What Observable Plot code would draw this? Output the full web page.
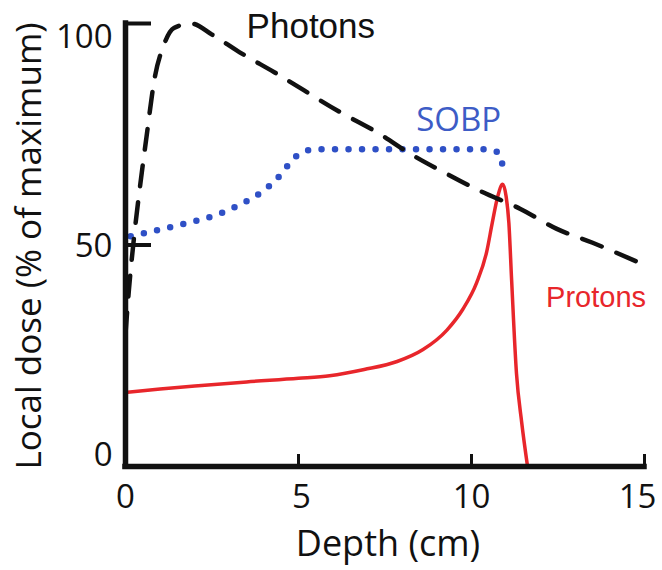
<!DOCTYPE html>
<html>
<head>
<meta charset="utf-8">
<script src="https://cdn.jsdelivr.net/npm/d3@7"></script>
<script src="https://cdn.jsdelivr.net/npm/@observablehq/plot@0.6"></script>
<style>
  html, body { margin: 0; padding: 0; background: #fff; }
</style>
</head>
<body>
<div id="chart"></div>
<script>
// ---- Data ----
const photonDepth = [0, 0.1, 0.25, 0.4, 0.6, 0.85, 1.1, 1.4, 1.9, 2.5, 3.3, 4.3, 6.2, 7.3, 8.25, 9.3, 10.3, 11.4, 12.45, 13.5, 15];
const photonDose  = [30, 40, 52, 62, 74, 88, 95, 99, 100, 97.5, 93.5, 89, 80, 75.3, 70.5, 66, 62, 58.2, 53.7, 50.5, 45.5];

const sobpDepth = [0.15, 1.0, 1.8, 2.7, 3.4, 4.0, 4.5, 4.8, 5.1, 5.5, 8, 10.4, 10.75, 10.9];
const sobpDose  = [52, 53.5, 55, 57, 59.5, 62.3, 66, 69, 70.9, 71.6, 71.6, 71.6, 71, 68];

const protonDepth = [0, 1, 2.2, 3.5, 5.0, 5.9, 6.9, 7.85, 8.6, 9.29, 9.75, 10.15, 10.44, 10.6, 10.76, 10.9, 11.0, 11.08, 11.16, 11.3, 11.45, 11.62];
const protonDose  = [16.7, 17.5, 18.3, 19.1, 19.9, 20.5, 21.9, 23.7, 26.4, 30.8, 35.5, 41.5, 48.5, 55, 61, 63.7, 61, 55, 42, 21, 10, 0];

const xTicks = [0, 5, 10, 15];
const yTicks = [0, 50, 100];
const xLabel = "Depth (cm)";
const yLabel = "Local dose (% of maximum)";

const seriesNames = ["Photons", "SOBP", "Protons"];
const labelDepth  = [3.5, 9.63, 13.6];
const labelDose   = [99.3, 78.1, 38.1];

// ---- Build tables ----
const toRows = (xs, ys) => xs.map((d, i) => ({depth: d, dose: ys[i]}));
const photons = toRows(photonDepth, photonDose);
const sobp = toRows(sobpDepth, sobpDose);
const protons = toRows(protonDepth, protonDose);
const labels = seriesNames.map((name, i) => ({name, depth: labelDepth[i], dose: labelDose[i]}));

const W = 662, H = 570;
const mL = 125, mR = 18, mT = 23, mB = 104;
const plotW = W - mL - mR, plotH = H - mT - mB;

const axisFont = "Open Sans, Noto Sans, sans-serif";
const blue = "#2f50c6";
const red = "#e8262b";

const yDy = t => (t === 100 ? 14 : t === 0 ? -11 : 1);
const xDx = t => (t === 15 ? -7 : t === 5 ? 3 : 0);

const chart = Plot.plot({
  width: W,
  height: H,
  marginLeft: mL,
  marginRight: mR,
  marginTop: mT,
  marginBottom: mB,
  style: {fontFamily: axisFont, background: "#fff", overflow: "visible"},
  x: {domain: [0, 15], axis: null},
  y: {domain: [0, 100], axis: null},
  marks: [
    // data lines
    Plot.line(protons, {x: "depth", y: "dose", stroke: red, strokeWidth: 3.5, curve: "monotone-x"}),
    Plot.line(sobp, {x: "depth", y: "dose", stroke: blue, strokeWidth: 6.5, strokeDasharray: "0,13.5", strokeLinecap: "round", curve: "monotone-x"}),
    Plot.line(photons, {x: "depth", y: "dose", stroke: "#111", strokeWidth: 4.5, strokeDasharray: "21,16", curve: "monotone-x"}),
    // axes lines
    Plot.ruleX([0], {stroke: "#111", strokeWidth: 5.5, strokeLinecap: "square"}),
    Plot.ruleY([0], {stroke: "#111", strokeWidth: 5.5, strokeLinecap: "square"}),
    // inward ticks
    Plot.tickY(yTicks, {y: d => d, stroke: "#111", strokeWidth: 4, insetRight: plotW - 26}),
    Plot.tickX(xTicks, {x: d => d, stroke: "#111", strokeWidth: 3, insetTop: plotH - 12}),
    // tick labels
    ...xTicks.map(t => Plot.text([t], {x: d => d, text: d => String(d), frameAnchor: "bottom", textAnchor: "middle", lineAnchor: "middle", dx: xDx(t), dy: 31, fontSize: 33, fill: "#111"})),
    ...yTicks.map(t => Plot.text([t], {y: d => d, text: d => String(d), frameAnchor: "left", textAnchor: "end", lineAnchor: "middle", dx: -13, dy: yDy(t), fontSize: 33, fill: "#111"})),
    // axis labels
    Plot.text([xLabel], {text: d => d, frameAnchor: "bottom", textAnchor: "middle", lineAnchor: "middle", dx: 3, dy: 78, fontSize: 36, fill: "#111"}),
    Plot.text([yLabel], {text: d => d, frameAnchor: "left", textAnchor: "middle", lineAnchor: "middle", rotate: -90, dx: -96, dy: 1, fontSize: 35, fill: "#111"}),
    // series labels
    Plot.text(labels.slice(0, 1), {x: "depth", y: "dose", text: "name", textAnchor: "start", fontSize: 35, fontFamily: "Liberation Sans, Arial, sans-serif", fill: "#111"}),
    Plot.text(labels.slice(1, 2), {x: "depth", y: "dose", text: "name", fontSize: 33, fill: "#3d5cc6"}),
    Plot.text(labels.slice(2, 3), {x: "depth", y: "dose", text: "name", fontSize: 29, fontFamily: "Liberation Sans, Arial, sans-serif", fill: red})
  ]
});

document.getElementById("chart").appendChild(chart);
</script>
</body>
</html>
